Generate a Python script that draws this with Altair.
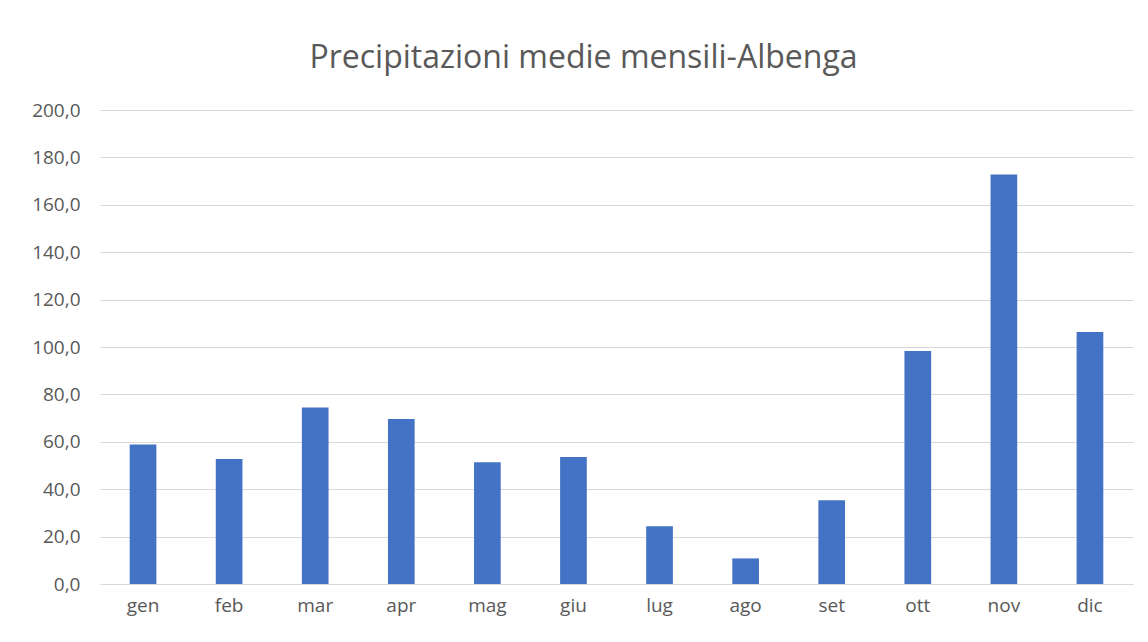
import altair as alt
import pandas as pd

months = ["gen", "feb", "mar", "apr", "mag", "giu", "lug", "ago", "set", "ott", "nov", "dic"]
rain = [58.9, 52.7, 74.5, 69.6, 51.4, 53.6, 24.4, 10.8, 35.3, 98.3, 172.8, 106.3]
y_ticks = [0, 20, 40, 60, 80, 100, 120, 140, 160, 180, 200]

df = pd.DataFrame({"mese": months, "pioggia": rain})

FONT = "Open Sans"
GRAY = "#595959"

chart = alt.Chart(df).mark_bar(color="#4472C4").encode(
    x=alt.X("mese:N", sort=months, title=None,
            scale=alt.Scale(paddingInner=0.69, paddingOuter=0.345),
            axis=alt.Axis(labelAngle=0, labelFont=FONT, labelFontSize=19, labelColor=GRAY,
                          ticks=False, grid=False, domainColor="#d9d9d9", labelPadding=12)),
    y=alt.Y("pioggia:Q", title=None,
            scale=alt.Scale(domain=[0, 200], nice=False),
            axis=alt.Axis(values=y_ticks, labelFont=FONT, labelFontSize=19, labelColor=GRAY,
                          ticks=False, domain=False, gridColor="#d9d9d9", labelPadding=20,
                          labelExpr="replace(format(datum.value, '.1f'), '.', ',')")),
).properties(
    width=1033, height=474,
    title=alt.TitleParams("Precipitazioni medie mensili-Albenga", font=FONT, fontSize=32,
                          fontWeight="normal", color=GRAY, anchor="middle", offset=26, dx=-33),
    autosize=alt.AutoSizeParams(type="none"),
    padding={"left": 92, "top": 102, "right": 7, "bottom": 42},
).configure(background="white").configure_view(strokeWidth=0, stroke="transparent")

chart.save("out.html", embed_options={"renderer": "svg", "actions": False})
